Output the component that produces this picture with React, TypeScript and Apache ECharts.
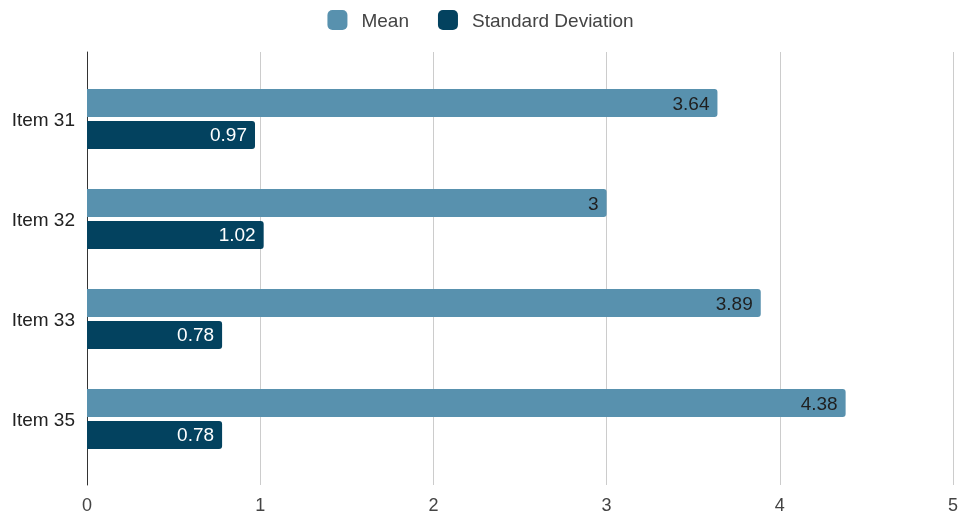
import React, { useEffect, useRef } from "react";
import * as echarts from "echarts";

const categories = ["Item 31", "Item 32", "Item 33", "Item 35"];
const meanValues = [3.64, 3, 3.89, 4.38];
const sdValues = [0.97, 1.02, 0.78, 0.78];
const xTicks = [0, 1, 2, 3, 4, 5];

const MEAN_COLOR = "#5891ae";
const SD_COLOR = "#03425f";
const FONT = "Arial, Liberation Sans, sans-serif";

export default function App() {
  const ref = useRef<HTMLDivElement | null>(null);

  useEffect(() => {
    if (!ref.current) return;
    const chart = echarts.init(ref.current, null, { renderer: "svg" });
    chart.setOption({
      animation: false,
      textStyle: { fontFamily: FONT },
      legend: {
        top: 10,
        padding: 0,
        left: "center",
        icon: "roundRect",
        itemWidth: 20,
        itemHeight: 20,
        itemGap: 29,
        textStyle: {
          fontSize: 19,
          color: "#444",
          fontFamily: FONT,
          padding: [0, 0, 0, 9],
        },
        data: ["Mean", "Standard Deviation"],
      },
      grid: [
        // bars
        { left: 87, right: 8, top: 69, bottom: 45 },
        // frame with gridlines and tick labels
        { left: 87, right: 8, top: 52, bottom: 27 },
      ],
      xAxis: [
        {
          gridIndex: 0,
          type: "value",
          min: 0,
          max: 5,
          interval: 1,
          show: false,
        },
        {
          gridIndex: 1,
          type: "value",
          min: xTicks[0],
          max: xTicks[xTicks.length - 1],
          interval: 1,
          axisLine: { show: false },
          axisTick: { show: false },
          splitLine: { lineStyle: { color: "#cccccc", width: 1 } },
          axisLabel: {
            fontSize: 18,
            color: "#444",
            margin: 11,
            fontFamily: FONT,
          },
        },
      ],
      yAxis: [
        {
          gridIndex: 0,
          type: "category",
          inverse: true,
          data: categories,
          axisLine: { show: false },
          axisTick: { show: false },
          axisLabel: {
            fontSize: 19,
            color: "#222",
            margin: 12,
            fontFamily: FONT,
          },
        },
        {
          gridIndex: 1,
          type: "value",
          min: 0,
          max: 1,
          axisLine: { show: true, lineStyle: { color: "#333", width: 1 } },
          axisTick: { show: false },
          axisLabel: { show: false },
          splitLine: { show: false },
        },
      ],
      series: [
        {
          name: "Mean",
          type: "bar",
          xAxisIndex: 0,
          yAxisIndex: 0,
          data: meanValues,
          barWidth: 28,
          barGap: "14%",
          itemStyle: { color: MEAN_COLOR, borderRadius: [0, 3, 3, 0] },
          label: {
            show: true,
            position: "insideRight",
            distance: 8,
            color: "#1f1f1f",
            fontSize: 19,
            fontFamily: FONT,
          },
          z: 3,
        },
        {
          name: "Standard Deviation",
          type: "bar",
          xAxisIndex: 0,
          yAxisIndex: 0,
          data: sdValues,
          barWidth: 28,
          barGap: "14%",
          itemStyle: { color: SD_COLOR, borderRadius: [0, 3, 3, 0] },
          label: {
            show: true,
            position: "insideRight",
            distance: 8,
            color: "#ffffff",
            fontSize: 19,
            fontFamily: FONT,
          },
          z: 3,
        },
      ],
    });
    return () => chart.dispose();
  }, []);

  return (
    <div
      ref={ref}
      style={{ position: "fixed", left: 0, top: 0, width: 961, height: 514 }}
    />
  );
}
